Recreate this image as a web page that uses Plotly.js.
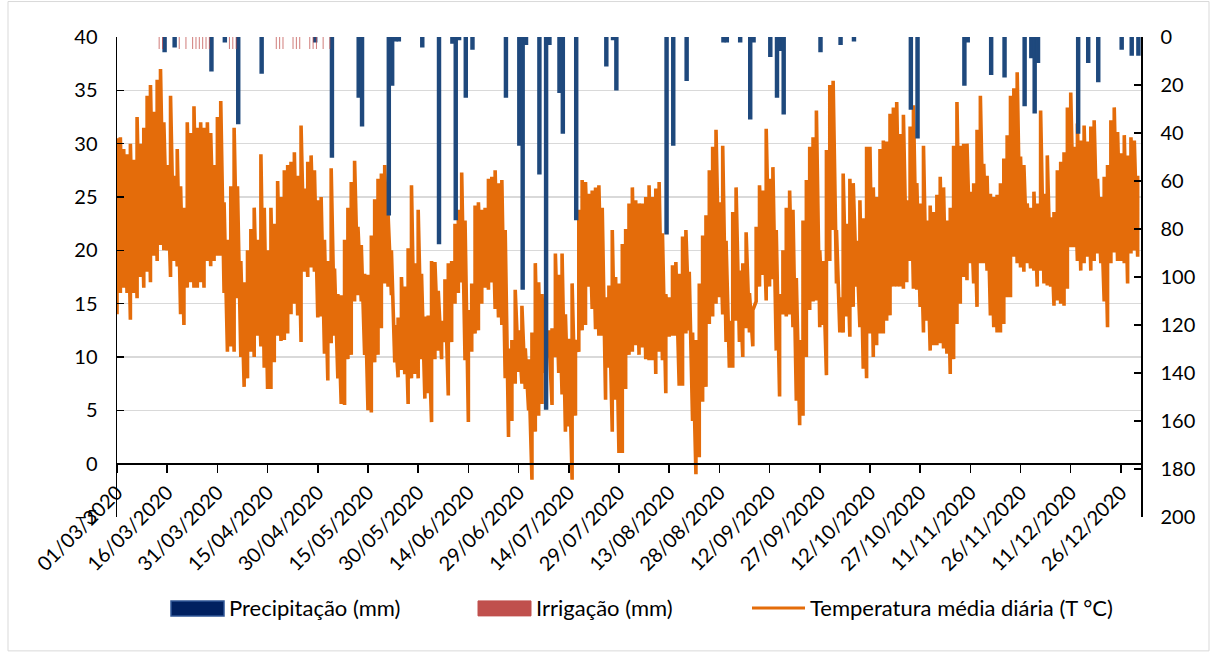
<!DOCTYPE html>
<html><head><meta charset="utf-8">
<script src="https://cdn.plot.ly/plotly-3.0.1.min.js"></script>
<style>body{margin:0;background:#fff}#chart{width:1216px;height:653px}</style>
</head><body><div id="chart"></div>
<script>
// Start date of the series (day index 0)
const startDate = '2020-03-01';

// Daily temperature envelope (max / min of the day's readings), °C, day 0 = 01/03/2020
const tMax = [
30.5,30.6,29.5,29,30,28.5,32.5,30,31.5,34.5,
35.5,33,36,37,32,28,34.5,27,29.5,26,
24,32,31,33.5,31.5,32,31.5,32,31,28,
32.5,34,24.5,21,26,31.5,26,19,17,20,
22,24,21,29,24,20,24,22.5,26.5,25,
27.5,28,28.3,29.2,27,31.7,25.8,28.3,28.9,27.5,
24.7,25,21,19,27.7,18.3,15.9,15.8,21,24,
26.4,28.4,22.2,20.5,17.8,17.7,21.4,24.8,26.7,27.2,
28,23.4,20,13,13.7,17.5,16.6,20.2,26.1,18.8,
23.8,17.8,13.8,13.9,19,18.9,16.2,13.4,17.3,18.8,
19,22.5,23.8,27.3,22.8,14.4,16.9,24.2,24.5,23.8,
24,26.7,26.9,27.5,26.3,26.6,21.9,10.8,11.6,16.3,
12.5,14.8,10.8,9.8,12.3,18.8,17,15.9,11.4,12.5,
12.7,19.7,17.7,19.7,14,11.7,16.9,11.6,23.8,26.6,
26.4,25.3,25.6,25.9,26.1,24,15.6,16.7,21.9,17.5,
16.9,20.6,22,24.4,25.9,24.7,24.4,24.4,25,26.1,
25,25.8,26.4,21.6,15.9,15.6,18.6,18.9,17.8,21.3,
21.9,18,12.3,11.6,16.9,21.4,23.3,27.5,29.7,31.3,
24.5,29.8,20.9,13.4,23.6,25.9,18.1,18.8,21.7,16,
14.4,22.2,26.1,25.6,31.4,26.7,27.8,21.9,15.9,20,
24,25.6,23.8,17.4,11.6,22.8,26.6,29.7,30.6,33.1,
20,19,29.4,35.5,35.9,21.9,15.6,27.2,22.5,26.7,
26.3,20.9,24.7,23,29.7,29.7,25.9,25,29.5,30.3,
30.2,32.8,33.4,33.9,30.9,32.7,24.7,31.6,33.6,26.3,
24.4,29.8,22.8,24.2,23.6,25.2,26.9,25.9,22.8,24,
29.8,33.9,29.8,30,30,25.5,26.3,31.3,34.5,28.1,
27,25.3,25,25.2,26.3,28.6,30.8,34.5,35.2,36.7,
28.8,28,24.4,24,25.5,24.4,33.1,25.3,28.9,23.1,
23.6,27.5,28.3,29.2,33.4,34.8,29.7,31.9,30.3,31.7,
30.2,31.6,32.2,26.7,25,26.9,28,32.2,33.4,31.1,
29.1,30.8,28.9,30.6,30.3,27
];
const tMin = [
14,16,16.5,16,13.5,16,15.5,17.5,16.5,18,
17,19.5,19,20.5,20,20,17.5,19,18.5,14,
13,16.5,17,16.5,16.5,17,16.5,19,18.5,19,
19.5,19.5,16,10.5,11,10.5,15.5,10,7.2,8,
10.5,10,12,11,9,7,7,9.5,12,11.5,
11.6,12.2,14,15,13.9,11.4,18,17.5,18.4,18,
13.7,13.8,10.3,7.8,11.3,12,8,5.6,5.5,9.8,
10.2,15.2,15.8,15.2,10.2,5,4.8,9.5,10.2,12.7,
16.9,16.6,15.8,9.5,8.1,8.8,8.4,5.6,8,8.4,
8,9.8,6.1,6.6,3.9,9.8,10.6,9.8,11.4,6.4,
11.4,15,16,17,9.7,3.9,10.5,12.2,12.5,15,
16.5,16.3,17,14.5,13.7,13,8,2.5,4,7.5,
8.6,7.5,7,5,-1.5,3,4.5,5.6,8.5,10,
5.5,10,8.5,6.5,3,3.5,-1.5,4.5,10.5,12.5,
13,16.6,14.5,12.6,12,12,6,9,3,6,
1,1,7,10.2,10.5,11.1,10.2,10.9,9.8,9.7,
9.7,8.4,10.5,9.7,6.6,11.9,12,12,7.3,7.3,
12.2,12.5,4,-1,0.6,5.8,7.2,13.1,13.8,15,
15.6,14,11.4,9,9,13.4,11.4,10,12.7,12.3,
11,15.2,16.6,17.7,15.3,16.6,17.3,10.6,6.3,14,
13.8,14,12.8,5.9,3.6,4.5,10,14.4,15.2,15.3,
12.8,13,8.3,19,21.9,16.9,12.3,12.3,13.8,11.9,
14.7,16.6,12.8,8.9,8,12.2,10,11.1,12.2,12.2,
13.4,13.9,16.6,16.6,16.6,16.4,17,19,16.4,16.3,
14.7,12.3,13.4,10.6,11.1,11.1,11.3,10.8,10.3,8.4,
9.8,13.1,15,17.5,17.2,18.8,16.9,14.7,18.8,18.8,
18.1,13.9,12.8,12.3,12.3,13.1,15.6,15.6,19.4,18.8,
18.4,18,18.8,18.3,18.1,16.6,18.1,16.9,16.7,16.6,
14.8,15.3,15,14.8,16.4,20.3,20.3,19,18.1,18.8,
19.4,18.1,19,19.7,18.8,15.2,12.8,18.8,19.8,19,
19,18.8,16.9,19.7,20,19.4
];

// Precipitation (mm): day index and amount
const precipDay = [14,17,28,32,36,43,59,64,72,73,81,82,83,84,91,96,100,101,102,104,106,116,120,121,122,126,128,129,132,133,137,146,148,149,164,166,170,181,182,186,189,190,195,197,198,199,210,216,220,237,239,253,254,261,265,271,273,274,275,287,290,293,300,303,305];
const precipMm  = [6,4,14,2,36,15,2,50,25,37,74,20,1.5,1.5,4,86,2.5,76,1,25,5,25,45,105,3,57,155,3,23,40,76,12,1,22,82,45,18,2,2,2,34,2,8,25,5.5,32,6,3,1.5,30,42,20,2,15.5,16.5,28.5,8.5,31.5,10.5,40,10.5,18.5,5,7.5,7.5];

// Irrigation (mm): day index and amount
const irrigDay = [13,14,19,21,23,24,25,26,27,28,34,35,36,48,49,50,53,54,55,58,59,60,62,64];
const irrigMm  = [5,5,5,5,5,5,5,5,5,5,5,5,5,5,5,5,5,5,5,5,5,5,5,5];

const legendNames = ['Precipitação (mm)', 'Irrigação (mm)', 'Temperatura média diária (T °C)'];

const DAY = 86400000;
const t0 = Date.parse(startDate + 'T00:00:00Z');
function dayToDate(d){ return new Date(t0 + d*DAY).toISOString().slice(0,19).replace('T',' '); }

// temperature line: each day drawn as a vertical stroke from min to max
const tx = [], ty = [];
for (let d = 0; d < tMax.length; d++) {
  const dt = dayToDate(d);
  tx.push(dt, dt); ty.push(tMin[d], tMax[d]);
}

const orange = '#E46C0A', navy = '#1F497D', red = '#C0504D';

const traces = [
  { type:'scatter', mode:'lines', x: tx, y: ty, yaxis:'y', name: legendNames[2],
    line:{color: orange, width: 3.6}, hoverinfo:'skip' },
  { type:'bar', x: precipDay.map(dayToDate), y: precipMm, yaxis:'y2', name: legendNames[0],
    width: precipDay.map(() => 0.85*DAY), offset: precipDay.map(() => -0.2*DAY),
    marker:{color: navy, line:{color: navy, width: 1.6}} },
  { type:'bar', x: irrigDay.map(dayToDate), y: irrigMm, yaxis:'y2', name: legendNames[1],
    width: irrigDay.map(() => 0.3*DAY), offset: irrigDay.map(() => -0.55*DAY),
    marker:{color: red, opacity: 0.75, line:{width:0}} }
];

const L = 117, R = 1141, T = 36.5, B = 517;
const px = v => (v - L)/(R - L);
const py = v => (B - v)/(B - T);

const layout = {
  width: 1216, height: 653,
  margin: {l: L, r: 1216 - R, t: T, b: 653 - B, pad: 0},
  paper_bgcolor: '#fff', plot_bgcolor: '#fff',
  showlegend: false,
  barmode: 'overlay',
  font: {family: 'Lato, "Open Sans", sans-serif', size: 20, color: '#000'},
  xaxis: {
    type: 'date', range: [dayToDate(0), dayToDate(306)],
    tick0: dayToDate(0), dtick: 15*DAY, tickformat: '%d/%m/%Y', tickangle: -45,
    ticks: 'outside', ticklen: 8, tickwidth: 1.5, tickcolor: '#000',
    showline: true, linecolor: '#000', linewidth: 1.5,
    anchor: 'free', position: py(463.3), showgrid: false, zeroline: false,
    tickfont: {size: 20, color: '#000'}
  },
  yaxis: {
    range: [-5, 40], tick0: 0, dtick: 5,
    ticks: 'inside', ticklen: 7, tickwidth: 1.5, tickcolor: '#000',
    showline: true, linecolor: '#000', linewidth: 1.5,
    showgrid: true, gridcolor: '#d9d9d9', gridwidth: 1.5, zeroline: false,
    ticklabelstandoff: 14, tickfont: {size: 20, color: '#000'}
  },
  yaxis2: {
    overlaying: 'y', side: 'right', range: [200, 0], tick0: 0, dtick: 20,
    ticks: 'inside', ticklen: 7, tickwidth: 1.5, tickcolor: '#000',
    showline: true, linecolor: '#000', linewidth: 1.5,
    showgrid: false, zeroline: false,
    ticklabelstandoff: 14, tickfont: {size: 20, color: '#000'}
  },
  shapes: [
    {type:'rect', xref:'paper', yref:'paper', x0: px(8), x1: px(1209), y0: py(651), y1: py(1), line:{color:'#d9d9d9', width:1}, fillcolor:'rgba(0,0,0,0)', layer:'below'},
    {type:'rect', xref:'paper', yref:'paper', x0: px(171), x1: px(224), y0: py(616), y1: py(601), fillcolor:'#002060', line:{color:'#2F5597', width:1.5}},
    {type:'rect', xref:'paper', yref:'paper', x0: px(478), x1: px(531), y0: py(616), y1: py(601), fillcolor:red, line:{color:red, width:1}},
    {type:'line', xref:'paper', yref:'paper', x0: px(752), x1: px(805), y0: py(608), y1: py(608), line:{color:orange, width:3}}
  ],
  annotations: [
    {xref:'paper', yref:'paper', x: px(227), y: py(608), xanchor:'left', yanchor:'middle', text: legendNames[0], showarrow:false, font:{size:22, color:'#000'}},
    {xref:'paper', yref:'paper', x: px(534), y: py(608), xanchor:'left', yanchor:'middle', text: legendNames[1], showarrow:false, font:{size:22, color:'#000'}},
    {xref:'paper', yref:'paper', x: px(808), y: py(608), xanchor:'left', yanchor:'middle', text: legendNames[2], showarrow:false, font:{size:22, color:'#000'}}
  ]
};

Plotly.newPlot('chart', traces, layout, {staticPlot: true, displayModeBar: false});
</script>
</body></html>
